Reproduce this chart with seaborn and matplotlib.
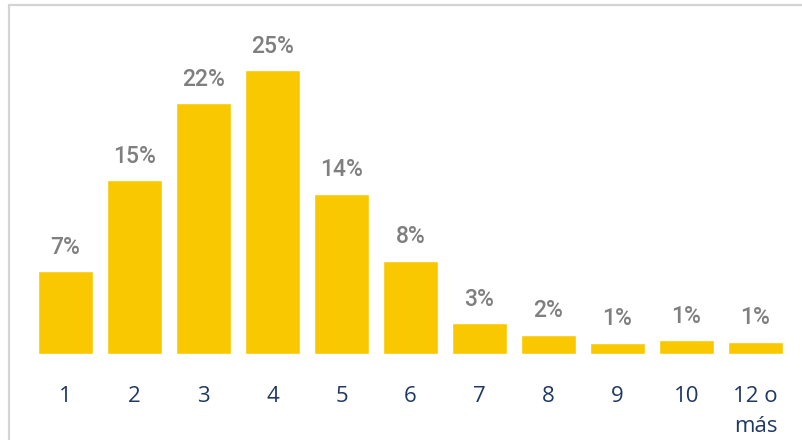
import pandas as pd
import seaborn as sns
import matplotlib.pyplot as plt
from matplotlib.lines import Line2D

categories = ['1', '2', '3', '4', '5', '6', '7', '8', '9', '10', '12 o\nmás']
values = [7.3, 15.3, 22.1, 25.0, 14.1, 8.2, 2.7, 1.7, 1.0, 1.2, 1.1]

df = pd.DataFrame({'cat': categories, 'pct': values})

sns.set_style("white")
plt.rcParams['font.family'] = ['Open Sans', 'DejaVu Sans']

fig = plt.figure(figsize=(8.02, 4.40), dpi=100)
ax = fig.add_axes([31 / 802, 86 / 440, 759 / 802, 336 / 440])

sns.barplot(x='cat', y='pct', data=df, color='#FAC800', saturation=1,
            width=0.8, errorbar=None, ax=ax)

for p, v in zip(ax.patches, values):
    ax.annotate('{:.0f}%'.format(v), (p.get_x() + p.get_width() / 2, p.get_height()),
                xytext=(0, 9), textcoords='offset points',
                ha='center', va='bottom', color='#7F7F7F',
                fontsize=16.5, fontweight='medium', family=['Roboto', 'DejaVu Sans'])

ax.set_xlim(-0.5, len(categories) - 0.5)
ax.set_ylim(0, 29.6)
ax.set_xlabel('')
ax.set_ylabel('')
ax.set_yticks([])
ax.tick_params(axis='x', length=0, pad=23, labelsize=16, labelcolor='#1F3864')
for lbl in ax.get_xticklabels():
    lbl.set_va('top')
    lbl.set_linespacing(1.55)
for s in ax.spines.values():
    s.set_visible(False)

# light gray chart frame
fig.add_artist(Line2D([9 / 802, 9 / 802], [0, 1 - 5 / 440], color='#D4D4D4', lw=1.6))
fig.add_artist(Line2D([9 / 802, 1], [1 - 5 / 440, 1 - 5 / 440], color='#D4D4D4', lw=1.6))

fig.savefig('out.png', dpi=100)
